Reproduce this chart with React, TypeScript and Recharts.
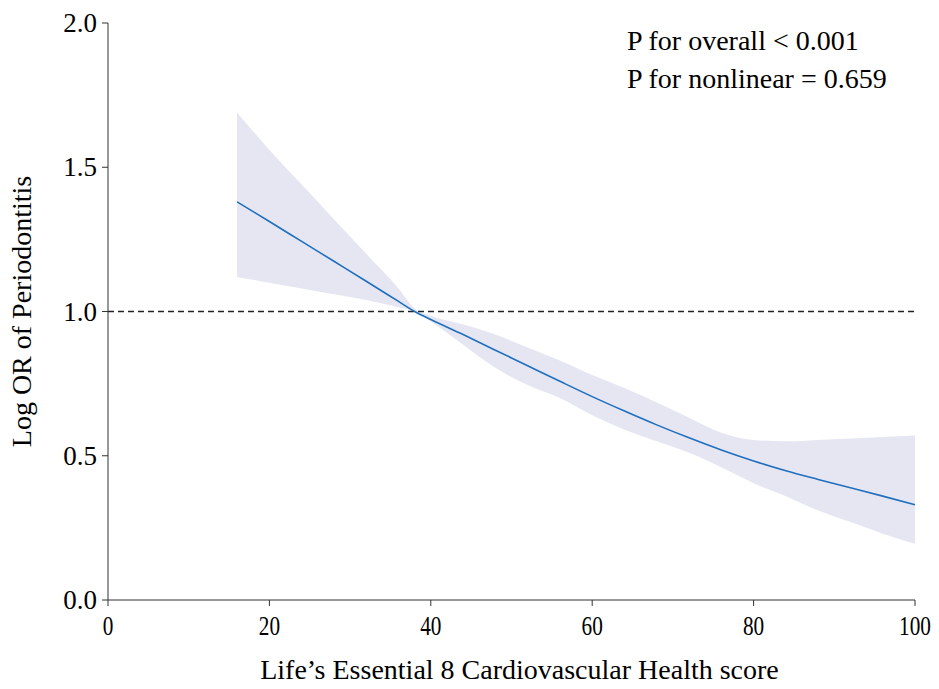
import { ComposedChart, Area, Line, XAxis, YAxis, ReferenceLine } from "recharts";

const scores = [16, 20, 24, 28, 32, 36, 38, 40, 44, 48, 52, 56, 60, 64, 68, 72, 76, 80, 84, 88, 92, 96, 100];
const fitted = [1.38, 1.312, 1.243, 1.174, 1.105, 1.035, 1.0, 0.972, 0.92, 0.866, 0.812, 0.758, 0.705, 0.655, 0.607, 0.562, 0.52, 0.482, 0.448, 0.418, 0.389, 0.36, 0.33];
const upper = [1.69, 1.56, 1.44, 1.32, 1.2, 1.08, 1.01, 0.985, 0.955, 0.92, 0.875, 0.83, 0.78, 0.735, 0.685, 0.632, 0.58, 0.555, 0.55, 0.555, 0.56, 0.565, 0.57];
const lower = [1.12, 1.1, 1.08, 1.06, 1.04, 1.015, 1.0, 0.965, 0.885, 0.805, 0.745, 0.7, 0.64, 0.59, 0.55, 0.51, 0.46, 0.405, 0.36, 0.31, 0.27, 0.23, 0.195];

const xTicks = [0, 20, 40, 60, 80, 100];
const yTicks = [0, 0.5, 1, 1.5, 2];

const data = scores.map((s, i) => ({ score: s, fit: fitted[i], band: [lower[i], upper[i]] }));

const font = '"Liberation Serif", "Times New Roman", serif';

// x tick labels in the figure are narrower than the rest of the text
const XTick = (props: any) => {
  const { x, y, payload } = props;
  return (
    <text transform={`translate(${x},${y + 27}) scale(0.76,1)`} textAnchor="middle" fontSize={28} style={{ fontFamily: font }} fill="#000">
      {payload.value}
    </text>
  );
};

const YTick = (props: any) => {
  const { x, y, payload } = props;
  return (
    <text x={x - 3} y={y + 9} textAnchor="end" fontSize={27} style={{ fontFamily: font }} fill="#000">
      {payload.value.toFixed(1)}
    </text>
  );
};

export default function App() {
  return (
    <div style={{ position: "absolute", left: 0, top: 0, width: 939, height: 689, fontFamily: font, background: "#fff" }}>
      <ComposedChart width={939} height={689} data={data} margin={{ top: 23, right: 24, left: 48, bottom: 0 }}>
        <XAxis
          dataKey="score"
          type="number"
          domain={[0, 100]}
          ticks={xTicks}
          height={89}
          stroke="#333"
          tickSize={6}
          tick={<XTick />}
          label={{ value: "Life\u2019s Essential 8 Cardiovascular Health score", position: "insideBottom", offset: 10, fill: "#000", fontSize: 28, fontFamily: font, dx: 8 }}
        />
        <YAxis
          type="number"
          domain={[0, 2]}
          ticks={yTicks}
          width={60}
          stroke="#333"
          tickSize={6}
          tick={<YTick />}
          label={{ value: "Log OR of Periodontitis", angle: -90, position: "insideLeft", offset: -27, fill: "#000", fontSize: 28, fontFamily: font, style: { textAnchor: "middle" } }}
        />
        <Area type="monotone" dataKey="band" stroke="none" fill="#e6e6f2" fillOpacity={1} isAnimationActive={false} />
        <ReferenceLine y={1} stroke="#222" strokeDasharray="6 4" strokeWidth={1.4} />
        <Line type="monotone" dataKey="fit" stroke="#1f6fbf" strokeWidth={1.6} dot={false} isAnimationActive={false} />
      </ComposedChart>
      <div style={{ position: "absolute", left: 627, top: 22, fontSize: 28, lineHeight: "38px", color: "#000" }}>
        <div>P for overall &lt; 0.001</div>
        <div>P for nonlinear = 0.659</div>
      </div>
    </div>
  );
}
